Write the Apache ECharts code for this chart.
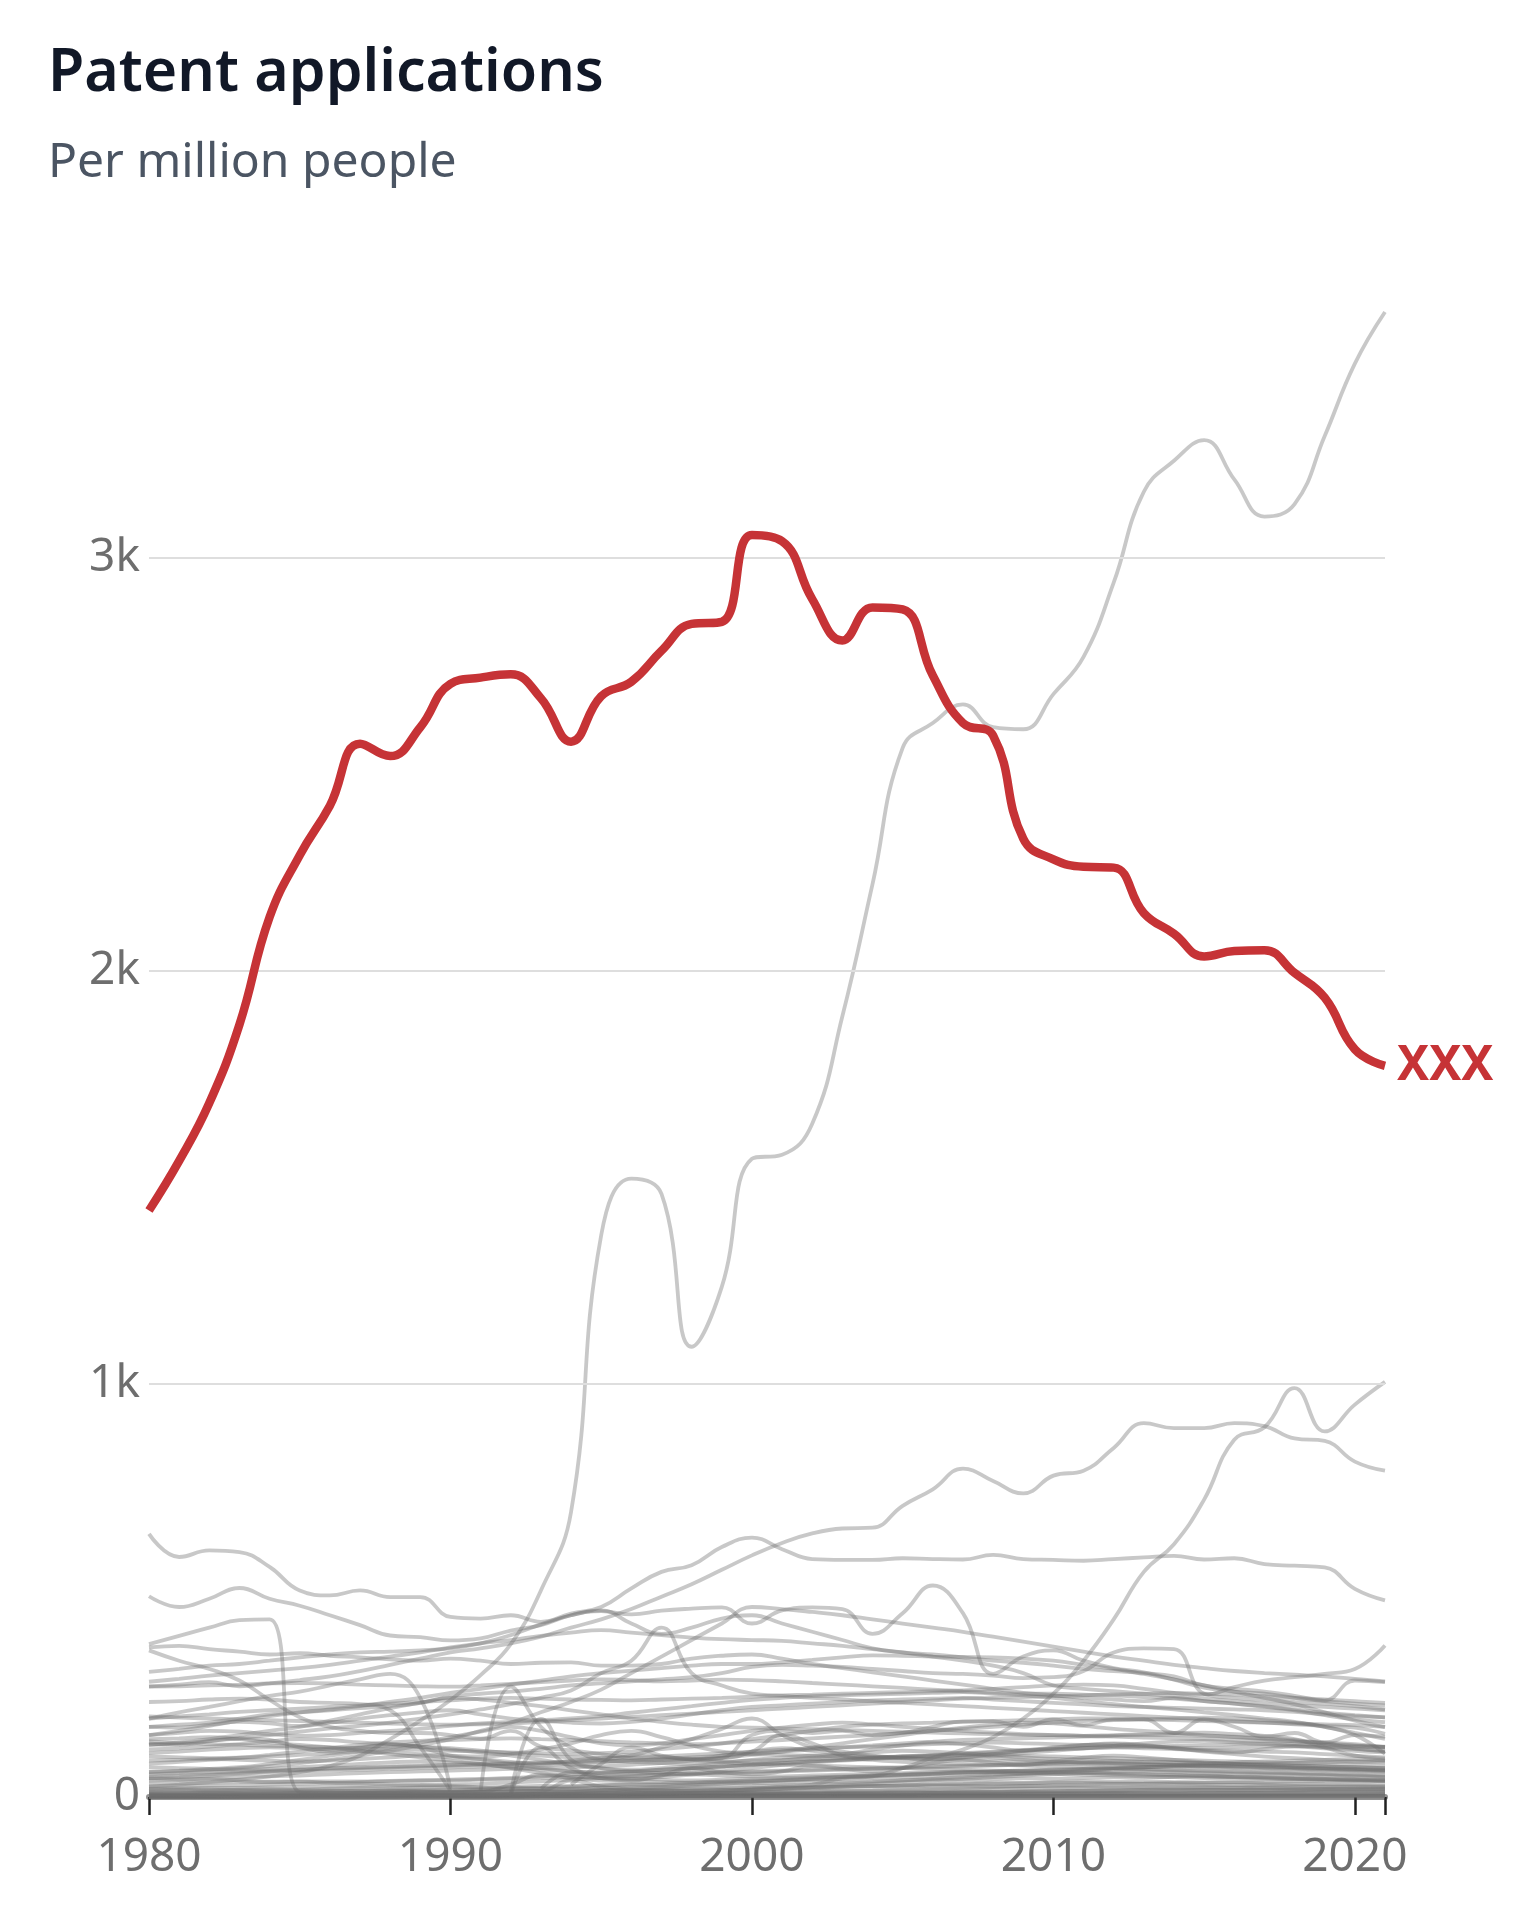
<!DOCTYPE html>
<html>
<head>
<meta charset="utf-8">
<title>Patent applications</title>
<script src="https://cdn.jsdelivr.net/npm/echarts@6/dist/echarts.min.js"></script>
<style>
  html, body { margin: 0; padding: 0; background: #fff; }
  #chart { width: 1536px; height: 1920px; }
</style>
</head>
<body>
<div id="chart"></div>
<script>
// years 1980..2021
const years = [];
for (let y = 1980; y <= 2021; y++) years.push(String(y));

const gridValues = [1000, 2000, 3000];

// highlighted country
const highlight = [
  1420, 1540, 1680, 1870, 2130, 2280, 2400, 2550, 2520, 2590,
  2695, 2710, 2718, 2660, 2555, 2665, 2700, 2775, 2840, 2845,
  3055, 3040, 2900, 2800, 2880, 2875, 2715, 2600, 2570, 2320,
  2270, 2252, 2250, 2140, 2090, 2035, 2048, 2050, 1995, 1935,
  1810, 1770
];

// other countries (grey)
const korea = [
  25, 30, 36, 42, 50, 60, 75, 100, 140, 185,
  235, 295, 370, 500, 690, 1360, 1497, 1460, 1090, 1235,
  1545, 1555, 1630, 1890, 2210, 2540, 2600, 2645, 2590, 2585,
  2670, 2760, 2940, 3160, 3235, 3285, 3190, 3100, 3130, 3295,
  3470, 3595
];
const china = [
  null, null, null, null, null, 5, 6, 6, 6, 5,
  5, 6, 7, 8, 8, 8, 9, 10, 11, 13,
  20, 25, 30, 45, 50, 70, 95, 115, 145, 190,
  250, 330, 430, 545, 612, 720, 865, 895, 990, 885,
  950, 1005
];
const usa = [
  268, 272, 278, 268, 275, 283, 292, 305, 320, 335,
  350, 360, 372, 388, 410, 430, 455, 485, 515, 550,
  585, 615, 638, 650, 652, 705, 745, 795, 765, 735,
  778, 790, 845, 905, 893, 893, 905, 898, 868, 862,
  812, 790
];
const germany = [
  637, 581, 597, 593, 557, 500, 488, 500, 484, 484,
  436, 432, 440, 424, 444, 460, 505, 545, 561, 605,
  628, 600, 576, 574, 574, 578, 576, 575, 586, 576,
  574, 572, 576, 580, 584, 575, 578, 564, 560, 556,
  504, 476
];
const s01 = [
  486, 460, 480, 506, 480, 463, 440, 416, 391, 387,
  379, 384, 403, 416, 440, 450, 442, 451, 456, 459,
  420, 452, 459, 455, 395, 445, 512, 445, 298, 340,
  355, 330, 312, 302, 284, 265, 255, 250, 240, 232,
  226, 222
];
const s02 = [
  370, 390, 410, 428, 430, 12, 10, 10, 11, 12,
  12, 13, 14, 15, 16, 17, 18, 19, 20, 21,
  22, 23, 24, 25, 26, 26, 27, 27, 26, 26,
  25, 25, 24, 24, 23, 23, 22, 22, 21, 20,
  20, 19
];
const s03 = [
  362, 366, 358, 352, 345, 348, 342, 338, 333, 330,
  335, 330, 322, 325, 326, 318, 318, 322, 335, 342,
  345, 335, 322, 312, 302, 292, 282, 272, 262, 252,
  246, 240, 236, 232, 240, 232, 226, 218, 210, 198,
  188, 181
];
const s04 = [
  303, 310, 318, 322, 330, 338, 345, 350, 352, 355,
  360, 372, 392, 418, 440, 452, 420, 395, 410, 432,
  440, 420, 400, 380, 360, 350, 345, 338, 330, 325,
  318, 310, 305, 300, 292, 270, 262, 255, 245, 234,
  282, 278
];
const s05 = [
  279, 286, 294, 300, 306, 312, 320, 330, 340, 350,
  362, 372, 380, 390, 398, 404, 398, 392, 386, 382,
  380, 378, 372, 366, 358, 350, 340, 330, 318, 300,
  270, 262, 256, 250, 244, 238, 232, 226, 222, 218,
  214, 210
];
const s06 = [
  267, 268, 270, 272, 275, 276, 275, 272, 270, 268,
  267, 270, 274, 278, 282, 285, 283, 280, 282, 284,
  283, 280, 276, 272, 268, 264, 260, 256, 253, 250,
  250, 248, 246, 242, 238, 232, 226, 220, 212, 204,
  198, 193
];
const s07 = [
  190, 195, 200, 206, 210, 214, 218, 222, 226, 230,
  234, 238, 240, 238, 236, 235, 234, 236, 238, 240,
  243, 246, 248, 250, 252, 254, 256, 258, 262, 266,
  270, 272, 270, 262, 252, 248, 266, 282, 290, 298,
  310, 367
];
const s08 = [
  170, 175, 180, 190, 200, 205, 210, 215, 220, 228,
  243, 250, 255, 262, 270, 275, 280, 285, 290, 300,
  315, 320, 318, 315, 310, 305, 300, 298, 294, 288,
  290, 305, 350, 360, 358, 250, 240, 235, 230, 226,
  220, 212
];
const s09 = [
  150, 160, 172, 185, 196, 205, 212, 220, 230, 240,
  252, 262, 272, 282, 292, 300, 306, 312, 318, 322,
  322, 326, 332, 338, 343, 342, 340, 339, 338, 335,
  330, 320, 310, 298, 285, 270, 255, 240, 225, 205,
  185, 169
];
const s10 = [
  126, 130, 136, 142, 150, 158, 166, 172, 180, 190,
  200, 212, 225, 240, 258, 300, 330, 410, 300, 270,
  250, 245, 240, 236, 232, 228, 224, 220, 216, 212,
  208, 204, 200, 196, 192, 188, 184, 180, 176, 172,
  168, 153
];
const s11 = [190, 205, 218, 232, 245, 255, 270, 285, 298, 240, 20];
const s12 = [
  null, null, null, null, null, null, null, null, null, null,
  null, 15, 267, 170, 120, 90, 85, 82, 80, 85,
  88, 90, 92, 94, 96, 98, 100, 102, 104, 100,
  98, 96, 94, 92, 90, 88, 86, 84, 82, 80,
  78, 76
];
const s13 = [
  null, null, null, null, null, null, null, null, null, null,
  null, null, 10, 189, 90, 70, 62, 58, 55, 52,
  50, 50, 52, 54, 56, 58, 60, 62, 60, 58,
  56, 54, 52, 50, 48, 46, 45, 44, 43, 42,
  41, 40
];
const s14 = [
  170, 168, 175, 182, 178, 172, 180, 190, 198, 205,
  210, 200, 190, 185, 180, 178, 182, 190, 200, 210,
  218, 222, 226, 230, 234, 236, 238, 240, 236, 232,
  228, 224, 220, 218, 216, 214, 212, 210, 206, 200,
  196, 193
];
const s15 = [
  150, 155, 160, 158, 152, 148, 150, 155, 160, 165,
  172, 178, 182, 186, 190, 196, 204, 212, 220, 228,
  235, 240, 244, 246, 248, 250, 252, 254, 250, 246,
  240, 232, 225, 218, 212, 205, 198, 190, 182, 170,
  155, 141
];
const s16 = [
  106, 110, 115, 118, 120, 118, 115, 120, 125, 122,
  118, 112, 106, 100, 96, 94, 95, 98, 102, 106,
  110, 114, 118, 120, 122, 125, 128, 130, 132, 130,
  128, 126, 124, 122, 120, 118, 120, 122, 124, 122,
  121, 121
];
const s17 = [
  81, 85, 90, 95, 102, 110, 118, 126, 132, 136,
  138, 140, 142, 140, 138, 135, 132, 130, 128, 130,
  134, 138, 142, 146, 150, 155, 160, 165, 170, 175,
  180, 184, 186, 188, 190, 192, 190, 186, 180, 170,
  150, 105
];
const s18 = [
  61, 64, 68, 72, 80, 90, 100, 110, 120, 132,
  145, 158, 170, 160, 145, 130, 125, 130, 140, 150,
  160, 168, 175, 180, 176, 170, 165, 160, 156, 152,
  150, 148, 150, 152, 154, 156, 152, 148, 140, 120,
  100, 93
];
const s19 = [
  126, 132, 140, 150, 160, 170, 185, 200, 215, 228,
  240, 236, 228, 220, 210, 200, 190, 182, 175, 170,
  168, 166, 164, 162, 160, 158, 156, 154, 152, 150,
  150, 148, 146, 144, 142, 140, 138, 136, 134, 132,
  128, 121
];
const s20 = [
  45, 48, 52, 56, 60, 62, 64, 66, 68, 70,
  72, 74, 76, 78, 80, 84, 88, 92, 96, 100,
  105, 110, 115, 120, 125, 130, 134, 138, 140, 142,
  144, 146, 148, 150, 150, 148, 146, 142, 138, 130,
  118, 110
];
const s21 = [
  60, 62, 65, 70, 75, 82, 90, 100, 112, 125,
  140, 160, 180, 205, 230, 260, 300, 340, 380, 420,
  460, 455, 448, 440, 430, 420, 410, 400, 388, 376,
  364, 352, 340, 330, 320, 312, 305, 300, 296, 292,
  286, 280
];
const s22 = [
  135, 130, 128, 126, 124, 122, 120, 118, 116, 114,
  112, 110, 108, 106, 104, 106, 110, 116, 122, 130,
  140, 150, 160, 170, 175, 178, 180, 182, 184, 186,
  188, 190, 190, 188, 186, 184, 182, 180, 178, 176,
  174, 170
];
const s23 = [
  195, 192, 190, 188, 186, 184, 182, 180, 178, 176,
  175, 176, 178, 182, 186, 190, 194, 198, 202, 206,
  210, 214, 218, 222, 226, 230, 234, 238, 240, 242,
  244, 246, 248, 250, 252, 250, 248, 244, 240, 236,
  232, 228
];
const s24 = [
  355, 330, 310, 282, 235, 193, 170, 160, 155, 155,
  150, 141, 160, 122, 113, 104, 94, 90, 90, 94,
  150, 160, 155, 160, 150, 155, 170, 183, 183, 170,
  188, 174, 188, 188, 155, 188, 170, 146, 155, 132,
  150, 146
];
const s25 = [
  130, 126, 135, 142, 138, 120, 110, 118, 128, 120,
  100, 92, 85, 80, 88, 95, 102, 98, 92, 100,
  110, 118, 112, 105, 115, 125, 132, 128, 120, 112,
  118, 125, 130, 126, 118, 112, 108, 116, 122, 118,
  112, 108
];
const s26 = [
  115, 118, 122, 128, 135, 140, 138, 132, 128, 122,
  115, 108, 100, 90, 78, 70, 66, 70, 75, 82,
  90, 96, 100, 104, 108, 112, 110, 106, 100, 96,
  92, 90, 88, 86, 84, 82, 80, 78, 76, 74,
  72, 70
];
const s27 = [
  98, 96, 94, 95, 98, 102, 106, 110, 108, 104,
  100, 98, 104, 115, 130, 150, 160, 145, 125, 110,
  104, 102, 100, 98, 96, 94, 92, 95, 100, 106,
  112, 118, 124, 130, 134, 136, 132, 128, 124, 120,
  116, 112
];
const s28 = [
  88, 90, 92, 90, 88, 86, 88, 92, 96, 100,
  96, 90, 80, 70, 62, 58, 56, 60, 66, 72,
  80, 88, 95, 100, 98, 94, 90, 96, 104, 112,
  120, 126, 128, 124, 118, 110, 104, 98, 94, 90,
  86, 84
];
const s29 = [
  72, 70, 68, 66, 68, 72, 76, 80, 84, 86,
  84, 80, 70, 58, 50, 46, 44, 48, 54, 62,
  70, 78, 84, 88, 92, 96, 98, 100, 96, 90,
  86, 84, 82, 80, 78, 76, 74, 72, 70, 68,
  66, 64
];
const s30 = [
  140, 142, 145, 140, 132, 126, 120, 112, 104, 96,
  88, 80, 72, 66, 62, 60, 62, 66, 70, 74,
  78, 82, 86, 90, 94, 98, 102, 106, 110, 114,
  116, 118, 120, 118, 116, 114, 112, 110, 108, 104,
  100, 96
];
const s31 = [
  null, null, null, null, null, null, null, null, null, null,
  null, null, null, 20, 60, 45, 40, 52, 70, 60,
  55, 62, 75, 68, 62, 70, 82, 90, 84, 78,
  86, 95, 100, 96, 90, 84, 80, 76, 72, 70,
  68, 66
];
const s32 = [
  40, 42, 45, 48, 50, 52, 55, 58, 60, 62,
  64, 66, 68, 70, 72, 74, 78, 82, 88, 95,
  102, 110, 120, 130, 140, 150, 160, 168, 175, 180,
  178, 172, 165, 160, 155, 150, 145, 140, 135, 130,
  125, 120
];
const s34 = [
  50, 52, 55, 58, 62, 66, 70, 72, 74, 76,
  78, 80, 82, 84, 86, 90, 100, 120, 140, 165,
  190, 150, 120, 110, 100, 95, 92, 90, 88, 86,
  84, 82, 80, 78, 76, 74, 72, 70, 68, 66,
  64, 62
];
const s35 = [
  55, 58, 60, 62, 64, 66, 68, 70, 72, 74,
  76, 78, 80, 82, 84, 86, 88, 90, 92, 94,
  110, 150, 130, 100, 90, 85, 82, 80, 78, 76,
  74, 72, 70, 68, 66, 64, 62, 60, 58, 56,
  54, 52
];
const s36 = [
  null, null, null, null, null, null, null, null, null, null,
  null, null, null, null, 30, 80, 120, 100, 90, 85,
  80, 78, 76, 74, 72, 70, 68, 66, 64, 62,
  60, 58, 56, 54, 52, 50, 48, 46, 44, 42,
  40, 38
];
const s37 = [230, 232, 236, 238, 236, 230, 228, 225, 210, 120, 15];

// low group near zero
const l01 = [33, 34, 35, 36, 36, 37, 38, 38, 39, 40, 40, 42, 44, 46, 48, 50, 52, 54, 56, 58, 60, 62, 64, 66, 68, 70, 72, 74, 76, 78, 80, 80, 79, 78, 77, 76, 75, 74, 72, 70, 68, 66];
const l02 = [20, 21, 22, 22, 23, 24, 25, 26, 27, 28, 30, 32, 35, 38, 42, 46, 50, 54, 58, 60, 62, 64, 66, 68, 70, 72, 74, 76, 78, 80, 82, 84, 86, 85, 84, 82, 80, 78, 76, 74, 72, 70];
const l03 = [10, 10, 11, 11, 12, 12, 13, 13, 14, 15, 16, 18, 20, 22, 25, 28, 30, 32, 35, 38, 40, 42, 45, 48, 50, 53, 56, 60, 62, 64, 66, 68, 70, 72, 74, 72, 70, 68, 66, 64, 62, 60];
const l04 = [5, 5, 6, 6, 6, 7, 7, 8, 8, 9, 10, 12, 30, 55, 45, 40, 38, 36, 35, 36, 38, 40, 42, 44, 46, 48, 50, 52, 54, 56, 58, 60, 58, 56, 54, 52, 50, 48, 46, 44, 42, 40];
const l05 = [null, null, null, null, null, null, null, null, null, null, null, null, 5, 120, 70, 50, 45, 42, 40, 42, 44, 46, 48, 50, 52, 54, 56, 58, 60, 62, 64, 66, 68, 66, 64, 62, 60, 58, 56, 54, 52, 50];
const l06 = [15, 17, 16, 18, 19, 18, 20, 22, 21, 23, 24, 22, 25, 27, 26, 28, 30, 29, 31, 34, 33, 35, 37, 36, 38, 40, 42, 41, 43, 45, 44, 46, 48, 47, 49, 50, 48, 47, 45, 44, 43, 42];
const l07 = [45, 43, 44, 40, 37, 38, 34, 33, 30, 29, 27, 24, 23, 20, 19, 17, 16, 16, 15, 17, 18, 21, 22, 25, 27, 28, 31, 32, 35, 34, 36, 38, 37, 38, 36, 35, 35, 33, 32, 31, 30, 28];
const l08 = [8, 8, 9, 9, 10, 10, 10, 11, 11, 12, 12, 13, 14, 15, 40, 25, 18, 16, 15, 16, 17, 20, 24, 28, 32, 36, 40, 44, 48, 52, 55, 58, 60, 62, 60, 58, 56, 55, 54, 52, 50, 48];
const l09 = [3, 3, 3, 4, 4, 4, 5, 5, 5, 6, 6, 6, 7, 7, 8, 8, 9, 9, 10, 11, 12, 13, 14, 15, 16, 18, 20, 22, 24, 26, 28, 30, 32, 33, 34, 35, 36, 36, 37, 37, 38, 38];
const l10 = [12, 12, 13, 14, 14, 15, 16, 16, 17, 18, 18, 19, 20, 20, 21, 22, 23, 23, 24, 25, 26, 28, 30, 33, 36, 40, 44, 48, 52, 56, 60, 64, 68, 72, 76, 80, 84, 86, 88, 90, 92, 88];
const l11 = [2, 2, 2, 2, 3, 3, 3, 3, 3, 4, 4, 4, 4, 5, 5, 5, 6, 6, 6, 7, 7, 8, 8, 9, 9, 10, 10, 11, 11, 12, 12, 13, 13, 14, 14, 15, 15, 16, 16, 17, 17, 18];
const l12 = [25, 26, 27, 28, 30, 32, 34, 36, 38, 40, 42, 44, 46, 50, 54, 58, 62, 66, 70, 74, 78, 82, 86, 90, 94, 98, 100, 104, 108, 112, 116, 118, 120, 122, 124, 126, 128, 130, 128, 126, 124, 122];
const l13 = [1, 1, 1, 1, 1, 2, 2, 2, 2, 2, 2, 3, 3, 3, 3, 3, 4, 4, 4, 4, 5, 5, 5, 6, 6, 6, 7, 7, 7, 8, 8, 8, 9, 9, 9, 10, 10, 10, 11, 11, 11, 12];
const l14 = [6, 7, 7, 8, 8, 9, 9, 10, 10, 11, 11, 12, 12, 13, 13, 14, 14, 15, 16, 17, 18, 20, 22, 24, 26, 28, 30, 31, 32, 33, 34, 34, 33, 32, 31, 30, 29, 28, 27, 26, 25, 24];
const l15 = [0, 0, 0, 0, 1, 1, 1, 1, 1, 1, 1, 1, 1, 2, 2, 2, 2, 2, 2, 2, 3, 3, 3, 3, 3, 3, 4, 4, 4, 4, 4, 5, 5, 5, 5, 5, 5, 6, 6, 6, 6, 6];
const l16 = [4, 4, 4, 5, 5, 5, 5, 6, 6, 6, 7, 7, 7, 8, 8, 8, 9, 9, 10, 10, 11, 12, 13, 14, 15, 16, 17, 18, 19, 20, 21, 22, 22, 23, 23, 24, 24, 25, 25, 25, 26, 26];
const l17 = [0, 0, 0, 1, 1, 1, 1, 1, 2, 2, 2, 2, 2, 2, 3, 3, 3, 3, 3, 4, 4, 4, 4, 5, 5, 5, 6, 6, 6, 7, 7, 7, 8, 8, 8, 8, 9, 9, 9, 9, 9, 10];
const l18 = [18, 18, 17, 17, 16, 16, 15, 15, 14, 14, 13, 13, 12, 12, 12, 11, 11, 11, 10, 10, 10, 10, 10, 11, 11, 12, 12, 13, 13, 14, 14, 15, 15, 16, 16, 17, 17, 18, 18, 19, 19, 20];
const l19 = [null, null, null, null, null, null, null, null, null, null, 2, 3, 5, 8, 12, 16, 20, 24, 28, 32, 36, 40, 44, 48, 52, 55, 58, 60, 62, 64, 66, 68, 70, 72, 74, 76, 78, 80, 82, 84, 86, 88];
const l20 = [0, 0, 0, 0, 0, 0, 0, 0, 0, 1, 1, 1, 1, 1, 1, 1, 1, 2, 2, 2, 2, 2, 2, 2, 2, 3, 3, 3, 3, 3, 3, 3, 3, 4, 4, 4, 4, 4, 4, 4, 4, 4];
const l21 = [2, 2, 1, 1, 1, 1, 1, 1, 1, 1, 1, 1, 2, 2, 2, 2, 2, 2, 2, 2, 2, 3, 3, 3, 3, 3, 3, 3, 3, 3, 3, 3, 2, 2, 2, 2, 2, 2, 2, 2, 2, 2];
const l22 = [7, 7, 6, 6, 6, 6, 5, 5, 5, 5, 5, 5, 5, 6, 6, 6, 6, 7, 7, 7, 8, 8, 8, 9, 9, 9, 10, 10, 10, 10, 10, 10, 10, 9, 9, 9, 9, 9, 8, 8, 8, 8];
const l23 = [0, 0, 0, 0, 0, 0, 0, 0, 0, 0, 0, 0, 0, 1, 1, 1, 1, 1, 1, 1, 1, 1, 1, 1, 1, 1, 1, 1, 1, 1, 1, 1, 1, 1, 1, 1, 1, 1, 1, 1, 1, 1];
const l24 = [3, 3, 3, 3, 3, 3, 3, 3, 3, 3, 4, 4, 4, 4, 4, 5, 5, 5, 5, 6, 6, 7, 7, 8, 8, 9, 10, 11, 12, 13, 14, 15, 16, 17, 18, 18, 18, 17, 17, 16, 16, 15];

const greyLines = [
  l23, l20, l15, l21, l13, l17, l11, l24, l22, l09, l16, l14, l18,
  l06, l07, l03, l02, l01, l04, l05, l08, l10, l19, l12,
  s31, s36, s34, s35, s25, s26, s27, s28, s29, s30, s32, s37,
  s11, s12, s13, s02, s20, s17, s18, s16, s19, s22, s10, s15, s14, s23,
  s06, s07, s08, s09, s24, s05, s04, s03, s21, s01,
  china, usa, germany, korea
];

const chart = echarts.init(document.getElementById('chart'));

const greySeries = greyLines.map((data, i) => ({
  type: 'line',
  data: data,
  smooth: 0.45,
  showSymbol: false,
  silent: true,
  z: 2,
  lineStyle: { color: 'rgba(110,110,110,0.38)', width: 3.8 },
  markLine: i === 0 ? {
    silent: true,
    symbol: 'none',
    label: { show: false },
    lineStyle: { color: '#dedede', width: 2, type: 'solid' },
    data: gridValues.map(v => ({ yAxis: v }))
  } : undefined
}));

chart.setOption({
  animation: false,
  backgroundColor: '#ffffff',
  title: [
    {
      text: 'Patent applications',
      left: 43, top: 40,
      textStyle: { fontFamily: 'Noto Sans', fontSize: 59, fontWeight: 600, color: '#111827' }
    },
    {
      text: 'Per million people',
      left: 43, top: 134,
      textStyle: { fontFamily: 'Noto Sans', fontSize: 48, fontWeight: 400, color: '#4b5563' }
    }
  ],
  grid: { left: 149, right: 151, top: 310, bottom: 123 },
  xAxis: {
    type: 'category',
    data: years,
    boundaryGap: false,
    axisLine: { show: true, lineStyle: { color: 'rgba(110,110,110,0.75)', width: 6 } },
    axisTick: {
      show: true,
      length: 18,
      interval: (idx) => idx % 10 === 0 || idx === years.length - 1,
      lineStyle: { color: '#222', width: 2.5 }
    },
    axisLabel: {
      interval: (idx) => idx % 10 === 0,
      margin: 38,
      fontFamily: 'Noto Sans',
      fontSize: 46,
      color: '#6e6e6e'
    },
    splitLine: { show: false }
  },
  yAxis: {
    type: 'value',
    min: 0,
    max: 3600,
    interval: 1000,
    axisLine: { show: false },
    axisTick: { show: false },
    splitLine: { show: false },
    axisLabel: {
      margin: 9,
      fontFamily: 'Noto Sans',
      fontSize: 46,
      color: '#6e6e6e',
      formatter: (v) => v === 0 ? '0' : (v % 1000 === 0 ? (v / 1000) + 'k' : '')
    }
  },
  series: greySeries.concat([{
    type: 'line',
    data: highlight,
    smooth: 0.45,
    showSymbol: false,
    silent: true,
    z: 10,
    lineStyle: { color: '#c63336', width: 8.5 },
    endLabel: {
      show: true,
      formatter: 'XXX',
      distance: 12,
      color: '#c63336',
      fontFamily: 'Noto Sans',
      fontSize: 48,
      fontWeight: 'bold'
    }
  }])
});
</script>
</body>
</html>
